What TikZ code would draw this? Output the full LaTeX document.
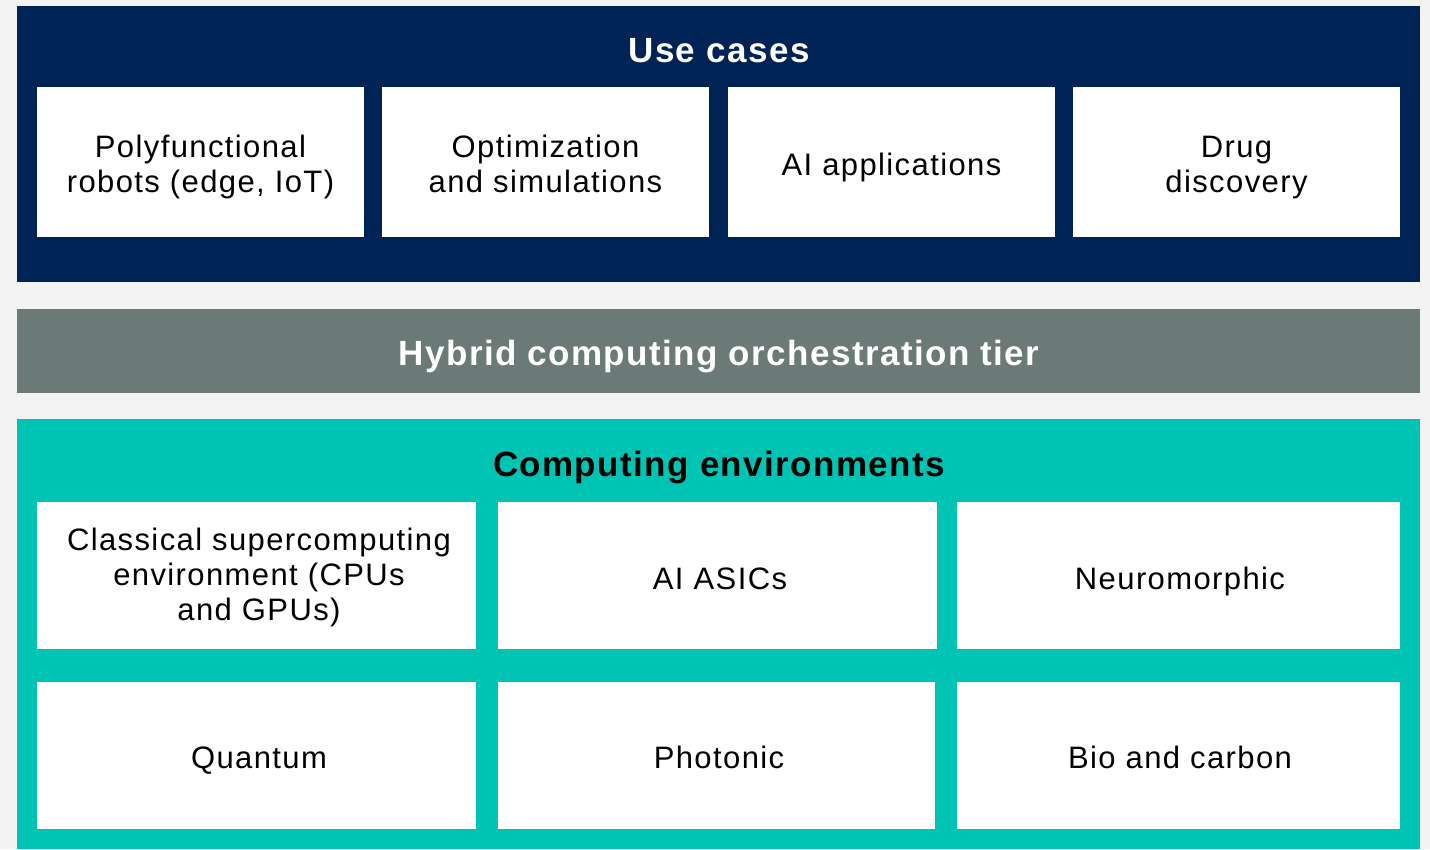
\documentclass[tikz,border=0pt]{standalone}
\usepackage{fontspec}
\setmainfont{Liberation Sans}[LetterSpace=4.5]
\newfontfamily\headfont{Liberation Sans}[LetterSpace=4]
\definecolor{bgc}{RGB}{243,243,243}
\definecolor{navy}{RGB}{0,35,85}
\definecolor{tiergray}{RGB}{107,122,119}
\definecolor{teal}{RGB}{0,196,179}
\tikzset{
  panel/.style={inner sep=0pt, outer sep=0pt, anchor=north west},
  whitebox/.style={fill=white, inner sep=0pt, outer sep=0pt},
  lbl/.style={inner sep=0pt, align=center, text=black,
    font=\fontsize{31}{35}\selectfont},
  heading/.style={inner sep=0pt, anchor=base, font=\headfont\fontsize{35}{40}\selectfont\bfseries},
}
\begin{document}
\begin{tikzpicture}[x=1pt,y=-1pt]
\fill[bgc] (0,0) rectangle (1430,849);
\useasboundingbox (0,0) rectangle (1430,849);
% panels
\node[panel, fill=navy, minimum width=1403pt, minimum height=276pt] (usepanel) at (17,6) {};
\node[panel, fill=tiergray, minimum width=1403pt, minimum height=84pt] (tier) at (17,309) {};
\node[panel, fill=teal, minimum width=1403pt, minimum height=430pt] (envpanel) at (17,419) {};
% headings
\node[heading, text=white] (usetitle) at (719,62) {Use cases};
\node[heading, text=white] (tiertitle) at (719,365) {Hybrid computing orchestration tier};
\node[heading, text=black] (envtitle) at (719,476) {Computing environments};
% use case boxes
\node[whitebox, minimum width=327pt, minimum height=150pt] (u1) at (200.5,162) {};
\node[whitebox, minimum width=327pt, minimum height=150pt] (u2) at (545.5,162) {};
\node[whitebox, minimum width=327pt, minimum height=150pt] (u3) at (891.5,162) {};
\node[whitebox, minimum width=327pt, minimum height=150pt] (u4) at (1236.5,162) {};
\node[lbl] (u1t) at (200.5,167.5) {\strut Polyfunctional\\robots (edge, IoT)\strut};
\node[lbl] (u2t) at (545.5,167.5) {\strut Optimization\\and simulations\strut};
\node[lbl] (u3t) at (891.5,168) {\strut AI applications\strut};
\node[lbl] (u4t) at (1236.5,167.5) {\strut Drug\\discovery\strut};
% environment boxes row 1
\node[whitebox, minimum width=439pt, minimum height=147pt] (e1) at (256.5,575.5) {};
\node[whitebox, minimum width=439pt, minimum height=147pt] (e2) at (717.5,575.5) {};
\node[whitebox, minimum width=443pt, minimum height=147pt] (e3) at (1178.5,575.5) {};
% environment boxes row 2
\node[whitebox, minimum width=439pt, minimum height=147pt] (e4) at (256.5,755.5) {};
\node[whitebox, minimum width=437pt, minimum height=147pt] (e5) at (716.5,755.5) {};
\node[whitebox, minimum width=443pt, minimum height=147pt] (e6) at (1178.5,755.5) {};
\node[lbl] (e1t) at (259,578) {\strut Classical supercomputing\\environment (CPUs\\and GPUs)\strut};
\node[lbl] (e2t) at (720,582) {\strut AI ASICs\strut};
\node[lbl] (e3t) at (1180,582) {\strut Neuromorphic\strut};
\node[lbl] (e4t) at (259,761) {\strut Quantum\strut};
\node[lbl] (e5t) at (719,761) {\strut Photonic\strut};
\node[lbl] (e6t) at (1180,761) {\strut Bio and carbon\strut};
\end{tikzpicture}
\end{document}
